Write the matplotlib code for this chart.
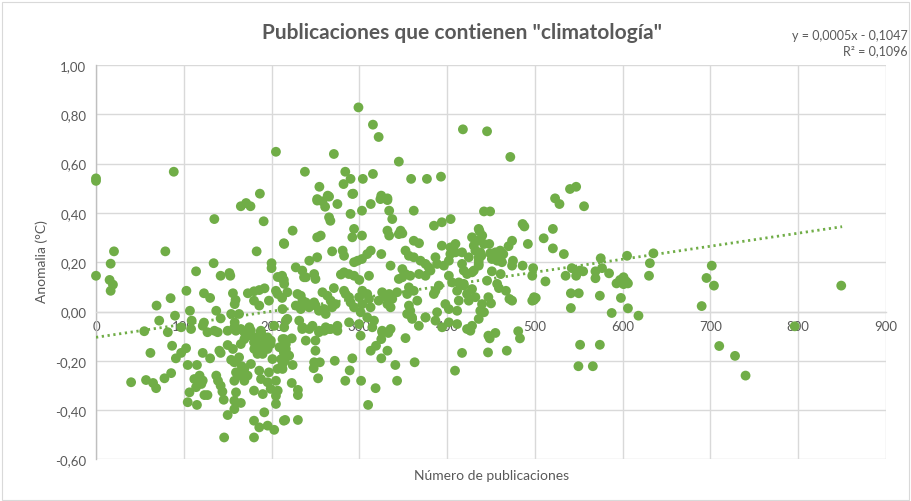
import matplotlib
matplotlib.use("Agg")
import matplotlib.pyplot as plt
import numpy as np

plt.rcParams['font.family'] = ['Lato', 'DejaVu Sans']

# ---- data (x = número de publicaciones, y = anomalía °C) ----
pts = [
(0,0.54),(0,0.53),(0,0.145),(20.5,0.244),(16.7,0.194),(15.5,0.128),(19.3,0.109),(16.7,0.084),
(79,0.244),(88.6,0.567),(205,0.648),(186.7,0.478),
(134.8,0.375),(165,0.427),(171,0.44),(176,0.427),(191,0.366),(214,0.277),(183,0.244),(134,0.196),
(114,0.163),(142,0.145),(152,0.156),(153,0.145),(200,0.196),(200,0.176),(207,0.14),(212,0.145),
(214,0.128),(103,0.084),(123,0.074),(130,0.055),(85,0.054),(69,0.024),(72,-0.037),(90,-0.017),
(107,0.003),(109,-0.037),(123,-0.045),(137,0.003),(142,-0.028),(156,0.074),(159,0.047),(158,0.03),
(154,-0.01),(163,-0.01),(173,0.074),(180,0.082),(186,0.087),(192,0.094),(180,0.044),(186,0.024),
(197,0.044),(205,0.084),(207,0.071),(212,0.055),(218,-0.03),(158,-0.044),(55,-0.08),
(299,0.828),(315.5,0.758),(322,0.708),(271,0.639),(418,0.739),(345,0.608),(238,0.567),(284,0.567),
(290,0.538),(282,0.517),(304,0.538),(315.5,0.558),(359,0.538),(377,0.538),(393,0.547),(254.5,0.506),
(264,0.47),(252,0.456),(293,0.478),(325,0.47),(332,0.459),
(445.5,0.731),(472,0.627),(540,0.497),(547,0.506),(523,0.459),
(528,0.436),(556,0.427),(442,0.406),(449,0.406),(486,0.355),(488,0.345),(520.5,0.335),(510,0.297),
(492,0.274),(520.5,0.256),(533,0.233),(437,0.325),(440,0.308),(474,0.287),(470,0.265),(442,0.274),
(448,0.274),(436,0.22),(439,0.226),(449,0.236),(455,0.24),(460.5,0.247),(464,0.233),(451,0.213),
(457,0.206),(462.5,0.2),(461,0.22),(475,0.206),(474,0.186),(486,0.186),(498,0.176),(497,0.145),
(436,0.193),(451,0.163),(461,0.152),(445.5,0.125),(457,0.112),(459,0.095),(467,0.084),(471,0.051),
(474,0.044),(447,0.058),(450,0.033),(442,-0.003),(497,0.044),(499,0.058),(501,0.055),(499,0.047),
(512,0.122),(535,0.145),(542,0.176),(547,0.145),(555,0.163),(551,0.166),(541,0.074),(550,0.074),
(541,0.014),(569,0.163),(569,0.135),(575,0.216),(576.5,0.176),(584.5,0.155),(574,0.064),(587.5,-0.006),
(598,0.055),(606,0.013),(618,-0.017),(593,0.114),(597,0.128),(601,0.139),(604,0.122),(606,0.114),
(601,0.111),(605,0.226),(635,0.236),(631,0.196),(630,0.145),
(701.5,0.186),(695.5,0.136),(704,0.105),(690,0.022),(849,0.105),(796,-0.06),(710,-0.14),(728,-0.18),(740,-0.26),
(447,-0.098),(448.5,-0.109),(455,-0.087),(446.6,-0.166),(468,-0.159),(483,-0.109),(481,-0.08),
(551.5,-0.135),(574,-0.135),(549.6,-0.222),(566,-0.222),
(301.5,-0.098),(313,-0.159),(319,-0.139),(325,-0.112),(326,-0.084),(333,-0.087),(332,-0.159),(325,-0.19),
(292,-0.19),(289,-0.239),(284,-0.281),(302,-0.281),(318.5,-0.311),(310,-0.379),(272,-0.2),(341,-0.217),
(343,-0.281),(363,-0.206),(352.6,-0.108),(417,-0.168),(409,-0.24),(426.5,-0.078),(253,-0.271),(224,-0.217),
(248.5,-0.206),(255,-0.206),(248,-0.23),(223,-0.29),(230,-0.318),(230,-0.339),(215.5,-0.44),(230,-0.44),
(250,-0.118),(239,-0.118),(250,-0.159),(214,-0.14),(217,-0.17),(215,-0.2),(223,-0.109),
(62,-0.168),(40,-0.287),(57,-0.278),(65,-0.29),(68.5,-0.311),(78,-0.271),(85.6,-0.25),(86.7,-0.139),
(91,-0.19),(97,-0.168),(102.6,-0.149),(104.5,-0.217),(115,-0.217),(112,-0.274),(118,-0.26),(120,-0.294),
(114,-0.307),(121.6,-0.28),(106.5,-0.328),(104.5,-0.368),(115,-0.379),(123.5,-0.339),(127,-0.339),
(121.6,-0.168),(130,-0.19),(140.5,-0.159),(142,-0.168),(137,-0.26),(139,-0.281),(142,-0.301),(144,-0.325),
(145.5,-0.358),(150,-0.136),(156,-0.152),(154,-0.196),(157.6,-0.206),(163,-0.186),(166,-0.222),
(159.5,-0.247),(164,-0.26),(169,-0.281),(157.6,-0.281),(159.5,-0.328),(157.6,-0.362),(165,-0.371),
(157.6,-0.396),(150,-0.42),(146,-0.511),
(165,-0.132),(169,-0.112),(176.5,-0.098),(180,-0.125),(182,-0.152),(184,-0.172),(188,-0.145),(192,-0.125),
(195.5,-0.105),(199,-0.132),(186,-0.098),
(176.5,-0.213),(169,-0.233),(172.7,-0.26),(186,-0.24),(188,-0.274),(197,-0.247),(180,-0.321),(190,-0.335),
(195.5,-0.287),(205,-0.281),(199,-0.314),(205,-0.342),(207,-0.321),(205,-0.375),(191.7,-0.409),(180,-0.443),
(186,-0.47),(195.5,-0.463),(203,-0.48),(214,-0.443),(180,-0.511),
(209,-0.145),(211,-0.193),(214,-0.166),(212.5,-0.112),
(252,0.45),(258,0.447),(261,0.425),(265.5,0.466),(275,0.436),(292,0.477),(303,0.409),(313,0.436),
(324,0.456),(332,0.452),(334,0.409),(337.5,0.375),(362,0.409),(290,0.396),(265.5,0.382),(267,0.368),
(294,0.335),(292,0.301),(303,0.308),(332,0.328),(334,0.308),(347,0.328),(349,0.317),(345,0.314),
(362,0.287),(368,0.277),(385,0.348),(394,0.362),(404,0.375),(394,0.267),(224,0.328),(214.4,0.274),
(252,0.301),(256,0.308),(269,0.244),(281,0.247),(282.6,0.226),(313,0.247),(309,0.233),(303,0.213),
(298,0.206),(294,0.2),(325,0.233),(252,0.22),(243,0.206),(227.6,0.179),(282.6,0.159),(288,0.152),
(294,0.145),(300,0.128),(311,0.145),(279,0.15),(248.5,0.152),(250,0.132),(237,0.139),(212.5,0.132),
(335.6,0.186),(349,0.172),(352.6,0.152),(358,0.145),(349,0.139),(345,0.132),
(352.6,0.247),(356.5,0.226),(362,0.22),(369.7,0.206),(375.4,0.193),(379,0.179),(386.7,0.22),(388.6,0.193),
(396.3,0.186),(402,0.206),(403.7,0.233),(409.5,0.24),(417,0.193),(419,0.166),(428.4,0.159),(430.4,0.267),
(432.2,0.247),(436,0.206),
(368,0.152),(375.4,0.145),(381,0.166),(402,0.145),(405.7,0.118),(419,0.112),
(326,0.078),(330,0.058),(334,0.071),(337.5,0.051),(343,0.078),(335.6,0.017),(332,0.03),(322,0.044),
(356.5,0.098),(362,0.084),(354.5,0.071),(366,0.044),(356.5,0.024),(358,0.003),(354.5,-0.01),(360,-0.024),
(375.4,-0.024),(388.6,-0.003),(398,0.03),(402,0.01),(411.4,0.003),(413.3,0.044),(422.7,0.071),(424.7,0.044),
(428.4,0.091),(432.2,0.058),(437.8,0.003),(439.8,0.03),
(386.7,0.084),(384.9,0.071),(390.6,0.105),(413.3,0.118),(419,0.105),(411.4,0.084),
(303.4,0.084),(309,0.071),(299.7,0.058),(311,0.051),(303.4,0.03),(312.8,0.017),(301.5,-0.003),(309,-0.024),
(316.7,-0.037),(282.6,0.084),(284.4,0.071),(288.3,0.058),(290,0.037),(294,0.017),
(258,0.078),(263.6,0.064),(267.4,0.044),(273,0.03),(260,0.01),(269,0.017),(250.3,0.024),(254,0.003),
(261.7,-0.01),(248.5,0.037),(271,0.095),
(229.5,0.071),(233.3,0.064),(235.2,0.044),(227.6,0.024),(233.3,0.01),(239,0.037),(242.8,0.017),
(239,0.139),(235,0.166),(214.4,0.112),(218,0.078),(212.5,0.01),
(216.3,-0.037),(231.5,-0.037),(235.2,-0.064),(246.6,-0.058),(254.2,-0.078),(261.7,-0.064),(267.4,-0.071),
(275,-0.058),(288.3,-0.044),(299.7,-0.051),(314.8,-0.064),(326,-0.078),(335.6,-0.071),
(360.2,-0.03),(367.8,-0.058),(375.4,-0.024),(386.7,-0.037),(394.3,-0.064),(402,-0.044),(411.4,-0.051),
(422.7,-0.071),(428.4,-0.058),(436,-0.03),
(127,-0.084),(138.6,-0.084),(159.4,-0.078),(169,-0.084),(176.5,-0.078),(188,-0.084),(199.2,-0.118),
(81.8,-0.084),(97,-0.064),(108.3,-0.071),(121.6,-0.058),(134.9,-0.078),(150,-0.078),(157.6,-0.064),
(165,-0.071),(174.7,-0.064),(187.8,-0.078),(203,-0.058),(214.4,-0.064),
(235,-0.071),(243,-0.071),(254,-0.084),(260,-0.078),(265.6,-0.071),(275,-0.078),
(214.4,-0.112),(216.3,-0.152),(220,-0.179),(214.4,-0.193),(212.5,-0.233),
(180.3,-0.152),(184,-0.132),(189.8,-0.172),(195.5,-0.152),(201,-0.193),(206.8,-0.233),(212.5,-0.213),
(216.3,-0.132),
(436,0.335),(428.4,0.301),(434,0.287),(437.8,0.24),(424.7,0.22),(436,0.186),(430.4,0.166),(422.7,0.152),
(403.8,0.26),(409.5,0.274),(417,0.24),
]
publicaciones = [p[0] for p in pts]
anomalia = [p[1] for p in pts]

# trend line (as displayed in chart)
trend_x = [0, 850]
trend_slope = 0.000528
trend_intercept = -0.1047

x_ticks = [0, 100, 200, 300, 400, 500, 600, 700, 800, 900]
y_ticks = [-0.6, -0.4, -0.2, 0.0, 0.2, 0.4, 0.6, 0.8, 1.0]

title = 'Publicaciones que contienen "climatología"'
eq_text = "y = 0,0005x - 0,1047"
r2_text = "R² = 0,1096"

green = "#70AD47"
grid_c = "#D9D9D9"
text_c = "#595959"

fig = plt.figure(figsize=(9.11, 5.02), dpi=100)
fig.patch.set_facecolor("white")
fig.patches.append(plt.Rectangle((0.002, 0.002), 0.996, 0.993, transform=fig.transFigure,
                                 fill=False, edgecolor=grid_c, linewidth=0.8))

ax = fig.add_axes([96/911, 1-460.4/502, (886-96)/911, (460.4-66)/502])
ax.set_xlim(0, 900)
ax.set_ylim(-0.6, 1.0)
ax.set_xticks(x_ticks)
ax.set_yticks(y_ticks)
ax.grid(True, color=grid_c, linewidth=1.0, zorder=0)
ax.set_axisbelow(True)

for s in ["top", "right"]:
    ax.spines[s].set_visible(False)
ax.spines["bottom"].set_position(("data", 0))
ax.spines["bottom"].set_color(grid_c)
ax.spines["bottom"].set_linewidth(1.0)
ax.spines["left"].set_color("#BFBFBF")
ax.spines["left"].set_linewidth(1.0)

ax.tick_params(axis="both", length=0, colors=text_c, labelsize=9.5)
ax.tick_params(axis="x", pad=6)
ax.tick_params(axis="y", pad=7)
ax.set_xticklabels([str(v) for v in x_ticks])
ax.set_yticklabels([("%.2f" % v).replace(".", ",").replace("−", "-") for v in y_ticks])

ax.scatter(publicaciones, anomalia, s=50, color=green, edgecolors="none", zorder=3, clip_on=False)

tx = np.array(trend_x, dtype=float)
ax.plot(tx, trend_slope * tx + trend_intercept, color=green, linewidth=2.0,
        linestyle=(0, (0.8, 1.3)), zorder=4)

fig.text(462/911, 1-33/502, title, ha="center", va="center", fontsize=15,
         fontweight="bold", color=text_c)
fig.text(908/911, 1-36/502, eq_text, ha="right", va="center", fontsize=9, color=text_c)
fig.text(908/911, 1-51/502, r2_text, ha="right", va="center", fontsize=9, color=text_c)
fig.text(492/911, 1-476/502, "Número de publicaciones", ha="center", va="center",
         fontsize=10, color=text_c)
fig.text(42/911, 1-262/502, "Anomalia (°C)", ha="center", va="center", rotation=90,
         fontsize=10, color=text_c)

fig.savefig("out.png", dpi=100)
